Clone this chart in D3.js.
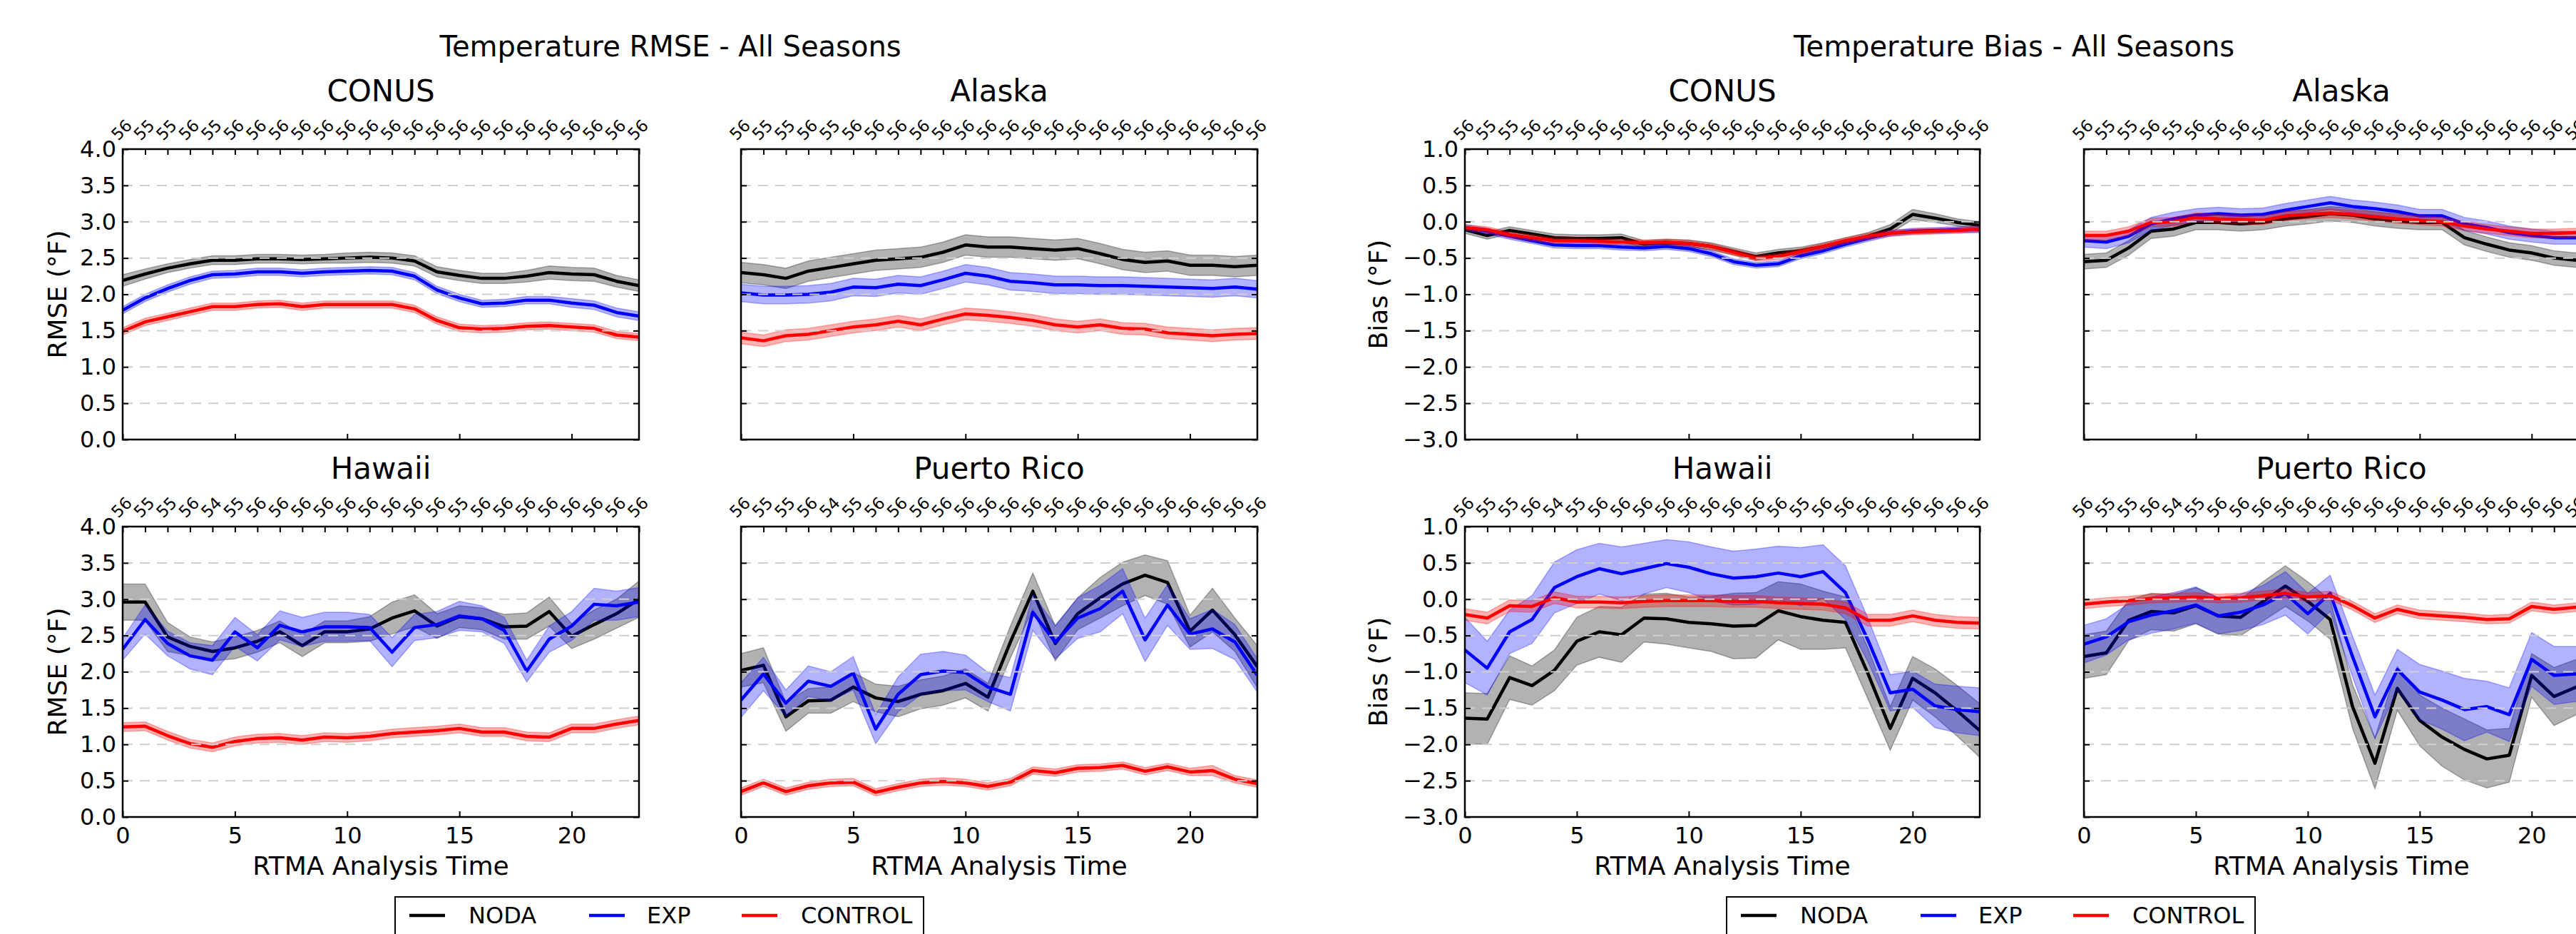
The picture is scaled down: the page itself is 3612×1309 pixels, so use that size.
<!DOCTYPE html>
<html>
<head>
<meta charset="utf-8">
<script src="https://cdn.jsdelivr.net/npm/d3@7"></script>
<style>
  html, body { margin: 0; padding: 0; background: #fff; overflow: hidden; }
  svg { display: block; font-family: "DejaVu Sans", sans-serif; }
</style>
</head>
<body>
<svg id="chart" width="3612" height="1309"></svg>
<script>
// ---- data ----
const hours = [0,1,2,3,4,5,6,7,8,9,10,11,12,13,14,15,16,17,18,19,20,21,22,23];
const rmseTicks = [0,0.5,1,1.5,2,2.5,3,3.5,4];
const biasTicks = [-3,-2.5,-2,-1.5,-1,-0.5,0,0.5,1];
const xMajorTicks = [0,5,10,15,20];
const seriesNames = ["NODA", "EXP", "CONTROL"];

// sample counts shown on the top axis
const countsCONUS  = [56,55,55,56,55,56,56,56,56,56,56,56,56,56,56,56,56,56,56,56,56,56,56,56];
const countsAlaska = [56,55,55,56,55,56,56,56,56,56,56,56,56,56,56,56,56,56,56,56,56,56,56,56];
const countsHawaii = [56,55,55,56,54,55,56,56,56,56,56,56,56,56,56,55,56,56,56,56,56,56,56,56];
const countsPR     = [56,55,55,56,54,55,56,56,56,56,56,56,56,56,56,56,56,56,56,56,56,56,56,56];

// RMSE - CONUS
const rmseConusNoda = [2.19,2.28,2.36,2.42,2.47,2.47,2.49,2.49,2.48,2.49,2.50,2.51,2.50,2.46,2.31,2.26,2.22,2.22,2.25,2.30,2.28,2.27,2.18,2.12];
const rmseConusExp  = [1.78,1.95,2.08,2.19,2.27,2.28,2.31,2.31,2.29,2.31,2.32,2.33,2.32,2.25,2.06,1.95,1.87,1.88,1.92,1.92,1.88,1.85,1.75,1.70];
const rmseConusCtrl = [1.49,1.62,1.69,1.76,1.83,1.83,1.86,1.87,1.83,1.86,1.86,1.86,1.86,1.80,1.64,1.54,1.52,1.53,1.56,1.57,1.55,1.53,1.44,1.41];
const rmseConusNodaErr = [0.08,0.07,0.06,0.06,0.06,0.06,0.06,0.06,0.06,0.06,0.07,0.07,0.07,0.07,0.07,0.07,0.07,0.07,0.08,0.09,0.09,0.09,0.08,0.08];
const rmseConusExpErr  = [0.05,0.05,0.05,0.05,0.05,0.05,0.05,0.05,0.05,0.05,0.05,0.05,0.05,0.05,0.05,0.05,0.05,0.05,0.05,0.05,0.06,0.06,0.06,0.06];
const rmseConusCtrlErr = [0.05,0.05,0.05,0.05,0.05,0.05,0.05,0.05,0.05,0.05,0.05,0.05,0.05,0.05,0.05,0.05,0.05,0.05,0.05,0.05,0.05,0.05,0.05,0.05];

// RMSE - Alaska
const rmseAlaskaNoda = [2.30,2.27,2.22,2.32,2.37,2.42,2.47,2.49,2.51,2.58,2.68,2.65,2.65,2.63,2.61,2.63,2.56,2.48,2.44,2.46,2.40,2.40,2.38,2.40];
const rmseAlaskaExp  = [2.02,1.99,1.99,2.00,2.03,2.10,2.09,2.14,2.12,2.20,2.29,2.25,2.18,2.16,2.13,2.13,2.12,2.12,2.11,2.10,2.09,2.08,2.10,2.07];
const rmseAlaskaCtrl = [1.40,1.36,1.43,1.45,1.50,1.55,1.58,1.63,1.58,1.66,1.73,1.71,1.68,1.64,1.58,1.55,1.58,1.53,1.52,1.47,1.45,1.43,1.45,1.46];
const rmseAlaskaNodaErr = [0.14,0.14,0.14,0.14,0.14,0.14,0.14,0.14,0.14,0.14,0.14,0.14,0.14,0.14,0.14,0.14,0.14,0.14,0.14,0.14,0.14,0.14,0.14,0.14];
const rmseAlaskaExpErr  = [0.12,0.12,0.12,0.12,0.12,0.12,0.12,0.12,0.12,0.12,0.12,0.12,0.12,0.12,0.12,0.12,0.12,0.12,0.12,0.12,0.12,0.12,0.12,0.12];
const rmseAlaskaCtrlErr = [0.08,0.08,0.08,0.08,0.08,0.08,0.08,0.08,0.08,0.08,0.08,0.08,0.08,0.08,0.08,0.08,0.08,0.08,0.08,0.08,0.08,0.08,0.08,0.08];

// RMSE - Hawaii
const rmseHawaiiNoda = [2.96,2.96,2.48,2.35,2.28,2.33,2.42,2.55,2.36,2.55,2.55,2.59,2.74,2.84,2.63,2.76,2.73,2.62,2.63,2.83,2.49,2.65,2.80,3.00];
const rmseHawaiiExp  = [2.31,2.72,2.39,2.22,2.16,2.55,2.33,2.64,2.55,2.62,2.62,2.61,2.27,2.61,2.65,2.77,2.73,2.57,2.01,2.45,2.63,2.93,2.91,2.96];
const rmseHawaiiCtrl = [1.24,1.25,1.12,1.01,0.96,1.04,1.08,1.09,1.06,1.10,1.09,1.11,1.15,1.17,1.19,1.22,1.17,1.17,1.11,1.10,1.22,1.22,1.28,1.33];
const rmseHawaiiNodaErr = [0.25,0.25,0.20,0.13,0.13,0.15,0.15,0.15,0.15,0.15,0.15,0.17,0.22,0.22,0.17,0.15,0.15,0.17,0.18,0.20,0.17,0.20,0.20,0.25];
const rmseHawaiiExpErr  = [0.15,0.20,0.17,0.18,0.20,0.20,0.18,0.20,0.20,0.20,0.20,0.18,0.20,0.18,0.18,0.20,0.18,0.18,0.15,0.18,0.20,0.22,0.20,0.20];
const rmseHawaiiCtrlErr = [0.06,0.06,0.06,0.06,0.06,0.06,0.06,0.06,0.06,0.06,0.06,0.06,0.06,0.06,0.06,0.06,0.06,0.06,0.06,0.06,0.06,0.06,0.06,0.06];

// RMSE - Puerto Rico
const rmsePRNoda = [2.02,2.09,1.38,1.60,1.61,1.79,1.64,1.59,1.69,1.74,1.84,1.65,2.41,3.11,2.39,2.80,3.02,3.21,3.33,3.23,2.56,2.85,2.51,2.07];
const rmsePRExp  = [1.61,1.97,1.57,1.87,1.80,1.98,1.21,1.69,1.96,2.01,1.99,1.79,1.69,2.82,2.41,2.74,2.87,3.11,2.44,2.92,2.52,2.59,2.41,1.95];
const rmsePRCtrl = [0.35,0.47,0.35,0.43,0.47,0.48,0.34,0.41,0.47,0.49,0.47,0.42,0.48,0.64,0.61,0.67,0.68,0.71,0.63,0.69,0.62,0.64,0.52,0.46];
const rmsePRNodaErr = [0.23,0.24,0.20,0.17,0.18,0.20,0.19,0.21,0.20,0.20,0.20,0.19,0.22,0.25,0.24,0.22,0.28,0.30,0.28,0.30,0.22,0.30,0.23,0.29];
const rmsePRExpErr  = [0.24,0.23,0.18,0.21,0.20,0.23,0.20,0.24,0.28,0.27,0.24,0.20,0.23,0.25,0.23,0.28,0.32,0.31,0.30,0.28,0.21,0.27,0.24,0.23];
const rmsePRCtrlErr = [0.05,0.05,0.05,0.05,0.05,0.05,0.05,0.05,0.05,0.05,0.05,0.05,0.05,0.05,0.05,0.05,0.05,0.05,0.05,0.05,0.05,0.07,0.05,0.05];

// Bias - CONUS
const biasConusNoda = [-0.11,-0.19,-0.12,-0.17,-0.22,-0.23,-0.23,-0.22,-0.31,-0.29,-0.30,-0.34,-0.41,-0.48,-0.43,-0.40,-0.34,-0.27,-0.20,-0.10,0.10,0.05,-0.01,-0.05];
const biasConusExp  = [-0.08,-0.13,-0.20,-0.26,-0.32,-0.33,-0.33,-0.35,-0.36,-0.34,-0.37,-0.44,-0.55,-0.60,-0.58,-0.47,-0.40,-0.31,-0.23,-0.16,-0.13,-0.12,-0.11,-0.11];
const biasConusCtrl = [-0.08,-0.11,-0.18,-0.22,-0.26,-0.26,-0.27,-0.28,-0.29,-0.28,-0.30,-0.34,-0.42,-0.50,-0.48,-0.41,-0.34,-0.26,-0.20,-0.16,-0.14,-0.13,-0.12,-0.10];
const biasConusNodaErr = [0.05,0.05,0.05,0.05,0.05,0.05,0.05,0.05,0.05,0.05,0.05,0.05,0.05,0.05,0.05,0.05,0.05,0.05,0.05,0.06,0.07,0.06,0.05,0.05];
const biasConusExpErr  = [0.04,0.04,0.04,0.04,0.04,0.04,0.04,0.04,0.04,0.04,0.04,0.04,0.04,0.04,0.04,0.04,0.04,0.04,0.04,0.04,0.04,0.04,0.04,0.04];
const biasConusCtrlErr = [0.04,0.04,0.04,0.04,0.04,0.04,0.04,0.04,0.04,0.04,0.04,0.04,0.04,0.04,0.04,0.04,0.04,0.04,0.04,0.04,0.04,0.04,0.04,0.04];

// Bias - Alaska
const biasAlaskaNoda = [-0.55,-0.53,-0.36,-0.13,-0.10,-0.01,-0.01,-0.03,-0.01,0.04,0.07,0.11,0.09,0.04,0.01,-0.01,-0.01,-0.22,-0.31,-0.39,-0.43,-0.50,-0.53,-0.55];
const biasAlaskaExp  = [-0.26,-0.28,-0.20,-0.03,0.04,0.09,0.11,0.09,0.10,0.16,0.21,0.26,0.21,0.18,0.14,0.08,0.08,-0.03,-0.08,-0.15,-0.19,-0.22,-0.22,-0.23];
const biasAlaskaCtrl = [-0.19,-0.19,-0.13,-0.01,0.00,0.06,0.04,0.03,0.02,0.08,0.10,0.12,0.10,0.07,0.04,0.02,0.00,-0.06,-0.10,-0.13,-0.16,-0.16,-0.15,-0.15];
const biasAlaskaNodaErr = [0.10,0.10,0.10,0.10,0.10,0.10,0.10,0.10,0.10,0.10,0.10,0.10,0.10,0.10,0.10,0.10,0.10,0.10,0.10,0.10,0.10,0.10,0.10,0.10];
const biasAlaskaExpErr  = [0.09,0.09,0.09,0.09,0.09,0.09,0.09,0.09,0.09,0.09,0.09,0.09,0.09,0.09,0.09,0.09,0.09,0.09,0.09,0.09,0.09,0.09,0.09,0.09];
const biasAlaskaCtrlErr = [0.06,0.06,0.06,0.06,0.06,0.06,0.06,0.06,0.06,0.06,0.06,0.06,0.06,0.06,0.06,0.06,0.06,0.06,0.06,0.06,0.06,0.06,0.06,0.06];

// Bias - Hawaii
const biasHawaiiNoda = [-1.64,-1.65,-1.08,-1.19,-0.98,-0.58,-0.45,-0.49,-0.26,-0.27,-0.32,-0.34,-0.37,-0.36,-0.16,-0.24,-0.29,-0.32,-1.02,-1.78,-1.09,-1.29,-1.54,-1.81];
const biasHawaiiExp  = [-0.70,-0.95,-0.45,-0.28,0.16,0.31,0.42,0.35,0.42,0.49,0.44,0.35,0.29,0.31,0.36,0.31,0.38,0.09,-0.56,-1.29,-1.24,-1.47,-1.52,-1.55];
const biasHawaiiCtrl = [-0.21,-0.26,-0.09,-0.10,0.02,-0.04,-0.04,-0.05,-0.03,-0.02,-0.02,-0.02,-0.03,-0.03,-0.05,-0.06,-0.07,-0.12,-0.29,-0.29,-0.23,-0.29,-0.32,-0.33];
const biasHawaiiNodaErr = [0.35,0.35,0.30,0.27,0.28,0.33,0.35,0.38,0.33,0.35,0.35,0.38,0.45,0.45,0.40,0.45,0.40,0.35,0.35,0.30,0.30,0.33,0.35,0.37];
const biasHawaiiExpErr  = [0.45,0.37,0.30,0.33,0.35,0.37,0.35,0.37,0.35,0.33,0.35,0.37,0.37,0.38,0.37,0.40,0.37,0.37,0.30,0.25,0.25,0.30,0.32,0.33];
const biasHawaiiCtrlErr = [0.08,0.08,0.08,0.08,0.08,0.08,0.08,0.08,0.08,0.08,0.08,0.08,0.08,0.08,0.08,0.08,0.08,0.08,0.08,0.08,0.08,0.08,0.08,0.08];

// Bias - Puerto Rico
const biasPRNoda = [-0.79,-0.74,-0.29,-0.17,-0.19,-0.09,-0.23,-0.25,-0.03,0.18,-0.03,-0.28,-1.48,-2.26,-1.23,-1.67,-1.90,-2.07,-2.20,-2.15,-1.05,-1.34,-1.21,-1.20];
const biasPRExp  = [-0.62,-0.52,-0.31,-0.22,-0.16,-0.08,-0.23,-0.18,-0.08,0.08,-0.20,0.08,-0.79,-1.62,-0.97,-1.28,-1.39,-1.52,-1.48,-1.59,-0.83,-1.05,-1.03,-1.00];
const biasPRCtrl = [-0.07,-0.04,-0.02,0.01,0.02,0.03,0.01,0.02,0.05,0.08,0.03,0.05,-0.09,-0.26,-0.14,-0.21,-0.23,-0.25,-0.28,-0.27,-0.10,-0.14,-0.11,-0.11];
const biasPRNodaErr = [0.30,0.30,0.28,0.25,0.25,0.25,0.25,0.25,0.27,0.28,0.27,0.27,0.30,0.35,0.30,0.35,0.40,0.42,0.40,0.37,0.30,0.40,0.38,0.38];
const biasPRExpErr  = [0.26,0.25,0.25,0.25,0.25,0.25,0.25,0.25,0.27,0.30,0.28,0.25,0.28,0.30,0.28,0.38,0.40,0.43,0.35,0.37,0.37,0.40,0.38,0.38];
const biasPRCtrlErr = [0.06,0.06,0.06,0.06,0.06,0.06,0.06,0.06,0.06,0.06,0.06,0.06,0.06,0.06,0.06,0.06,0.06,0.06,0.06,0.06,0.06,0.06,0.06,0.06];

// ---- layout ----
const colors = ["#000000", "#0000ff", "#ff0000"];
const rowY = [209, 738], panelH = 407;
const FONT = "DejaVu Sans";

const figures = [
  { title: "Temperature RMSE - All Seasons", titleX: 940, colX: [172, 1039], w: 724,
    ylabel: "RMSE (°F)", ylabelX: 80, domain: [0, 4], ticks: rmseTicks, legendX: 554,
    panels: [
      { name: "CONUS", counts: countsCONUS, vals: [rmseConusNoda, rmseConusExp, rmseConusCtrl], errs: [rmseConusNodaErr, rmseConusExpErr, rmseConusCtrlErr] },
      { name: "Alaska", counts: countsAlaska, vals: [rmseAlaskaNoda, rmseAlaskaExp, rmseAlaskaCtrl], errs: [rmseAlaskaNodaErr, rmseAlaskaExpErr, rmseAlaskaCtrlErr] },
      { name: "Hawaii", counts: countsHawaii, vals: [rmseHawaiiNoda, rmseHawaiiExp, rmseHawaiiCtrl], errs: [rmseHawaiiNodaErr, rmseHawaiiExpErr, rmseHawaiiCtrlErr] },
      { name: "Puerto Rico", counts: countsPR, vals: [rmsePRNoda, rmsePRExp, rmsePRCtrl], errs: [rmsePRNodaErr, rmsePRExpErr, rmsePRCtrlErr] }
    ] },
  { title: "Temperature Bias - All Seasons", titleX: 2824, colX: [2054, 2922], w: 722,
    ylabel: "Bias (°F)", ylabelX: 1932, domain: [-3, 1], ticks: biasTicks, legendX: 2421,
    panels: [
      { name: "CONUS", counts: countsCONUS, vals: [biasConusNoda, biasConusExp, biasConusCtrl], errs: [biasConusNodaErr, biasConusExpErr, biasConusCtrlErr] },
      { name: "Alaska", counts: countsAlaska, vals: [biasAlaskaNoda, biasAlaskaExp, biasAlaskaCtrl], errs: [biasAlaskaNodaErr, biasAlaskaExpErr, biasAlaskaCtrlErr] },
      { name: "Hawaii", counts: countsHawaii, vals: [biasHawaiiNoda, biasHawaiiExp, biasHawaiiCtrl], errs: [biasHawaiiNodaErr, biasHawaiiExpErr, biasHawaiiCtrlErr] },
      { name: "Puerto Rico", counts: countsPR, vals: [biasPRNoda, biasPRExp, biasPRCtrl], errs: [biasPRNodaErr, biasPRExpErr, biasPRCtrlErr] }
    ] }
];

const svg = d3.select("#chart");
const defs = svg.append("defs");
let clipId = 0;

function styleAxis(g, size) {
  g.attr("font-family", FONT).attr("font-size", size);
  g.select(".domain").remove();
  g.selectAll(".tick line").attr("stroke", "#000").attr("stroke-width", 2);
  g.selectAll(".tick text").attr("fill", "#000");
}

function drawPanel(fig, p, idx) {
  const col = idx % 2, row = Math.floor(idx / 2);
  const x0 = fig.colX[col], y0 = rowY[row], w = fig.w, h = panelH;
  const x = d3.scaleLinear().domain([0, 23]).range([x0, x0 + w]);
  const y = d3.scaleLinear().domain(fig.domain).range([y0 + h, y0]);

  const cid = "clip" + (clipId++);
  defs.append("clipPath").attr("id", cid)
    .append("rect").attr("x", x0).attr("y", y0).attr("width", w).attr("height", h);

  const plot = svg.append("g").attr("clip-path", `url(#${cid})`);

  // bands then lines, one series at a time
  p.vals.forEach((vals, s) => {
    const rows = hours.map((hr, i) => ({ hr, v: vals[i], e: p.errs[s][i] }));
    plot.append("path").datum(rows)
      .attr("d", d3.area().x(d => x(d.hr)).y0(d => y(d.v - d.e)).y1(d => y(d.v + d.e)))
      .attr("fill", colors[s]).attr("fill-opacity", 0.3)
      .attr("stroke", colors[s]).attr("stroke-opacity", 0.3).attr("stroke-width", 1.5);
    plot.append("path").datum(rows)
      .attr("d", d3.line().x(d => x(d.hr)).y(d => y(d.v)))
      .attr("fill", "none").attr("stroke", colors[s]).attr("stroke-width", 4.5)
      .attr("stroke-linejoin", "round");
  });

  // dashed grid on top
  const inner = fig.ticks.slice(1, -1);
  svg.append("g").selectAll("line").data(inner).enter().append("line")
    .attr("x1", x0).attr("x2", x0 + w)
    .attr("y1", d => y(d)).attr("y2", d => y(d))
    .attr("stroke", "#cfcfcf").attr("stroke-width", 2).attr("stroke-dasharray", "14,10");

  // axes (ticks pointing inward)
  const fmt = d3.format(".1f");
  const left = svg.append("g").attr("transform", `translate(${x0},0)`)
    .call(d3.axisLeft(y).tickValues(fig.ticks).tickSize(-8).tickPadding(9)
      .tickFormat(col === 0 ? fmt : () => ""));
  styleAxis(left, 32);

  const right = svg.append("g").attr("transform", `translate(${x0 + w},0)`)
    .call(d3.axisRight(y).tickValues(fig.ticks).tickSize(-8).tickFormat(() => ""));
  styleAxis(right, 32);

  const bottom = svg.append("g").attr("transform", `translate(0,${y0 + h})`)
    .call(d3.axisBottom(x).tickValues(xMajorTicks).tickSize(-8).tickPadding(14)
      .tickFormat(row === 1 ? d3.format("d") : () => ""));
  styleAxis(bottom, 32);

  const top = svg.append("g").attr("transform", `translate(0,${y0})`)
    .call(d3.axisTop(x).tickValues(hours).tickSize(-8).tickFormat((d, i) => p.counts[i]));
  styleAxis(top, 23);
  top.selectAll(".tick text")
    .attr("y", null).attr("dy", null)
    .attr("text-anchor", "middle").attr("dominant-baseline", "central")
    .attr("transform", "translate(-2,-27) rotate(-45)");

  // spine
  svg.append("rect").attr("x", x0).attr("y", y0).attr("width", w).attr("height", h)
    .attr("fill", "none").attr("stroke", "#000").attr("stroke-width", 2.5);

  // subplot title
  svg.append("text").attr("x", x0 + w / 2).attr("y", y0 - 67)
    .attr("text-anchor", "middle").attr("font-family", FONT).attr("font-size", 42)
    .text(p.name);

  if (col === 0) {
    const cy = y0 + h / 2;
    svg.append("text").attr("transform", `translate(${fig.ylabelX},${cy}) rotate(-90)`)
      .attr("text-anchor", "middle").attr("dominant-baseline", "central")
      .attr("font-family", FONT).attr("font-size", 36).text(fig.ylabel);
  }
  if (row === 1) {
    svg.append("text").attr("x", x0 + w / 2).attr("y", y0 + h + 81)
      .attr("text-anchor", "middle").attr("font-family", FONT).attr("font-size", 36)
      .text("RTMA Analysis Time");
  }
}

const legendOffsets = [{ line: 20, text: 103 }, { line: 272, text: 353 }, { line: 486, text: 569 }];

figures.forEach(fig => {
  svg.append("text").attr("x", fig.titleX).attr("y", 79)
    .attr("text-anchor", "middle").attr("font-family", FONT).attr("font-size", 40)
    .text(fig.title);

  fig.panels.forEach((p, i) => drawPanel(fig, p, i));

  // legend
  const lg = svg.append("g").attr("transform", `translate(${fig.legendX},1257)`);
  lg.append("rect").attr("x", 0).attr("y", 0).attr("width", 741).attr("height", 120)
    .attr("fill", "#fff").attr("stroke", "#000").attr("stroke-width", 2);
  seriesNames.forEach((name, i) => {
    lg.append("line").attr("x1", legendOffsets[i].line).attr("x2", legendOffsets[i].line + 50)
      .attr("y1", 26).attr("y2", 26).attr("stroke", colors[i]).attr("stroke-width", 4.5);
    lg.append("text").attr("x", legendOffsets[i].text).attr("y", 26)
      .attr("dominant-baseline", "central").attr("font-family", FONT).attr("font-size", 32)
      .text(name);
  });
});
</script>
</body>
</html>
